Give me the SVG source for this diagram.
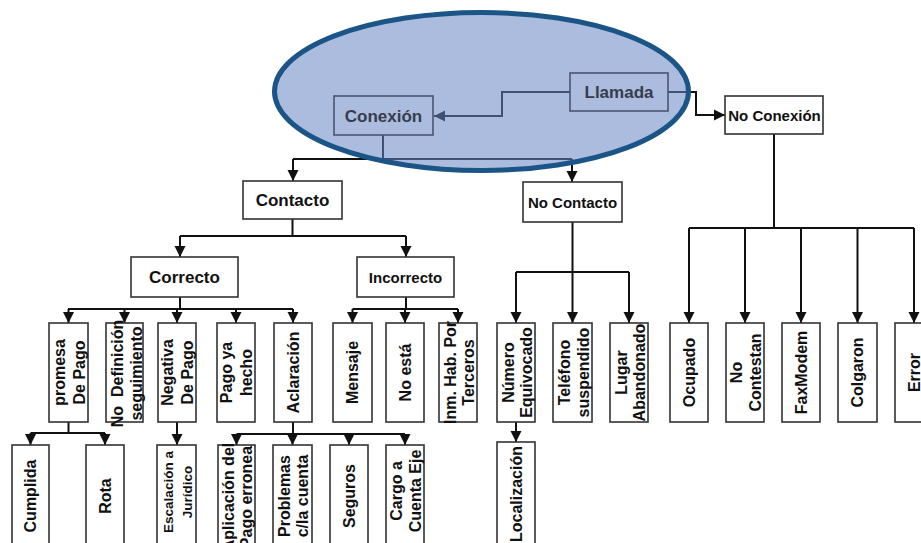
<svg xmlns="http://www.w3.org/2000/svg" width="921" height="543" viewBox="0 0 921 543">
  <style>
    .box { fill: #fff; stroke: #333; stroke-width: 1.6; }
    .hl { fill: none; stroke: #4a5470; stroke-width: 1.6; }
    .lbl { font-family: "Liberation Sans", Arial, sans-serif; font-weight: bold; fill: #111; text-anchor: middle; }
    .dim { fill: #363c4b; }
    .h17 { font-size: 17px; }
    .h15 { font-size: 15px; }
    .v { font-size: 16px; }
    .vs { font-size: 13.5px; }
    .wire { fill: none; stroke: #111; stroke-width: 2; }
    .arr { marker-end: url(#tip); }
  </style>
  <defs>
    <marker id="tip" markerUnits="userSpaceOnUse" markerWidth="12" markerHeight="12" refX="11" refY="6" orient="auto">
      <path d="M0,0.5 L11,6 L0,11.5 z" fill="#111"/>
    </marker>
  </defs>
  <rect width="921" height="543" fill="#fff"/>

  <!-- connectors -->
  <g id="connectors">
    <path class="wire arr" d="M570,92 H502 V116 H434"/>
    <path class="wire arr" d="M668,92 H696 V115 H725"/>
    <path class="wire" d="M383,135 V159 M293,159 H572"/>
    <path class="wire arr" d="M293,159 V181"/>
    <path class="wire arr" d="M572,159 V182"/>

    <path class="wire" d="M292.5,219 V236 M180,236 H406"/>
    <path class="wire arr" d="M180,236 V257"/>
    <path class="wire arr" d="M406,236 V257"/>

    <path class="wire" d="M180,297 V309 M68,309 H293"/>
    <path class="wire arr" d="M68.5,309 V323"/>
    <path class="wire arr" d="M124.5,309 V323"/>
    <path class="wire arr" d="M177,309 V323"/>
    <path class="wire arr" d="M236,309 V323"/>
    <path class="wire arr" d="M293,309 V323"/>

    <path class="wire" d="M406,297 V309 M352.5,309 H458"/>
    <path class="wire arr" d="M352.5,309 V323"/>
    <path class="wire arr" d="M405,309 V323"/>
    <path class="wire arr" d="M458,309 V323"/>

    <path class="wire" d="M572.5,222 V272 M516,272 H629"/>
    <path class="wire arr" d="M516,272 V323"/>
    <path class="wire arr" d="M572.5,272 V323"/>
    <path class="wire arr" d="M629,272 V323"/>

    <path class="wire" d="M774,134 V228 M689,228 H914"/>
    <path class="wire arr" d="M689,228 V323"/>
    <path class="wire arr" d="M745,228 V323"/>
    <path class="wire arr" d="M801,228 V323"/>
    <path class="wire arr" d="M857.5,228 V323"/>
    <path class="wire arr" d="M914,228 V323"/>

    <path class="wire" d="M68.5,422 V433 M30.5,433 H105"/>
    <path class="wire arr" d="M30.5,433 V445"/>
    <path class="wire arr" d="M105,433 V445"/>
    <path class="wire arr" d="M177,422 V445"/>
    <path class="wire" d="M293,422 V434 M236.5,434 H405"/>
    <path class="wire arr" d="M236.5,434 V445"/>
    <path class="wire arr" d="M292.5,434 V445"/>
    <path class="wire arr" d="M349,434 V445"/>
    <path class="wire arr" d="M405,434 V445"/>
    <path class="wire arr" d="M516,422 V442"/>
  </g>

  <!-- second and third levels -->
  <g id="n-noconexion"><rect class="box" x="725" y="96" width="98" height="38"/><text class="lbl h15" x="774.5" y="120.5">No Conexión</text></g>
  <g id="n-contacto"><rect class="box" x="243" y="181" width="99" height="38"/><text class="lbl h17" x="292.5" y="206">Contacto</text></g>
  <g id="n-nocontacto"><rect class="box" x="523" y="182" width="99" height="40"/><text class="lbl h15" x="572.5" y="207.5">No Contacto</text></g>
  <g id="n-correcto"><rect class="box" x="131" y="257" width="107" height="40"/><text class="lbl h17" x="184.5" y="283">Correcto</text></g>
  <g id="n-incorrecto"><rect class="box" x="357" y="257" width="97" height="40"/><text class="lbl h15" x="405.5" y="282.5">Incorrecto</text></g>

  <!-- vertical leaf boxes -->
  <g id="n-promesa"><rect class="box" x="49" y="323" width="39" height="99"/>
    <text class="lbl v" transform="translate(68.5,372.5) rotate(-90)"><tspan x="0" y="-4">promesa</tspan><tspan x="0" y="16">De Pago</tspan></text></g>
  <g id="n-nodef"><rect class="box" x="106" y="323" width="37" height="99"/>
    <text class="lbl v" transform="translate(124.5,373.5) rotate(-90)"><tspan x="0" y="-2">No&#160; Definición</tspan><tspan x="0" y="17">seguimiento</tspan></text></g>
  <g id="n-negativa"><rect class="box" x="158" y="323" width="38" height="99"/>
    <text class="lbl v" transform="translate(177,372.5) rotate(-90)"><tspan x="0" y="-4">Negativa</tspan><tspan x="0" y="16">De Pago</tspan></text></g>
  <g id="n-pagohecho"><rect class="box" x="217" y="323" width="38" height="99"/>
    <text class="lbl v" transform="translate(236,372.5) rotate(-90)"><tspan x="0" y="-4">Pago ya</tspan><tspan x="0" y="16">hecho</tspan></text></g>
  <g id="n-aclaracion"><rect class="box" x="274" y="323" width="38" height="99"/>
    <text class="lbl v" transform="translate(293,372.5) rotate(-90)"><tspan x="0" y="5.5">Aclaración</tspan></text></g>
  <g id="n-mensaje"><rect class="box" x="333" y="323" width="39" height="99"/>
    <text class="lbl v" transform="translate(352.5,372.5) rotate(-90)"><tspan x="0" y="5.5">Mensaje</tspan></text></g>
  <g id="n-noesta"><rect class="box" x="386" y="323" width="38" height="99"/>
    <text class="lbl v" transform="translate(405,372.5) rotate(-90)"><tspan x="0" y="5.5">No está</tspan></text></g>
  <g id="n-inm"><rect class="box" x="439" y="323" width="38" height="99"/>
    <text class="lbl v" transform="translate(458,372.5) rotate(-90)"><tspan x="0" y="-2.5">Inm. Hab. Por</tspan><tspan x="0" y="15.5">Terceros</tspan></text></g>
  <g id="n-numero"><rect class="box" x="497" y="323" width="38" height="99"/>
    <text class="lbl v" transform="translate(516,372.5) rotate(-90)"><tspan x="0" y="-2">Número</tspan><tspan x="0" y="16">Equivocado</tspan></text></g>
  <g id="n-telefono"><rect class="box" x="553" y="323" width="39" height="99"/>
    <text class="lbl v" transform="translate(572.5,372.5) rotate(-90)"><tspan x="0" y="-2.5">Teléfono</tspan><tspan x="0" y="16">suspendido</tspan></text></g>
  <g id="n-lugar"><rect class="box" x="610" y="323" width="38" height="99"/>
    <text class="lbl v" transform="translate(629,372.5) rotate(-90)"><tspan x="0" y="-2.5">Lugar</tspan><tspan x="0" y="16">Abandonado</tspan></text></g>
  <g id="n-ocupado"><rect class="box" x="670" y="323" width="38" height="99"/>
    <text class="lbl v" transform="translate(689,372.5) rotate(-90)"><tspan x="0" y="5.5">Ocupado</tspan></text></g>
  <g id="n-nocontestan"><rect class="box" x="726" y="323" width="38" height="99"/>
    <text class="lbl v" transform="translate(745,372.5) rotate(-90)"><tspan x="0" y="-3">No</tspan><tspan x="0" y="16">Contestan</tspan></text></g>
  <g id="n-faxmodem"><rect class="box" x="782" y="323" width="38" height="99"/>
    <text class="lbl v" transform="translate(801,372.5) rotate(-90)"><tspan x="0" y="5.5">FaxModem</tspan></text></g>
  <g id="n-colgaron"><rect class="box" x="838" y="323" width="39" height="99"/>
    <text class="lbl v" transform="translate(857.5,372.5) rotate(-90)"><tspan x="0" y="5.5">Colgaron</tspan></text></g>
  <g id="n-error"><rect class="box" x="895" y="323" width="38" height="99"/>
    <text class="lbl v" transform="translate(914,372.5) rotate(-90)"><tspan x="0" y="5.5">Error</tspan></text></g>

  <!-- bottom leaf boxes -->
  <g id="n-cumplida"><rect class="box" x="12" y="445" width="37" height="102"/>
    <text class="lbl v" transform="translate(30.5,496) rotate(-90)"><tspan x="0" y="5.5">Cumplida</tspan></text></g>
  <g id="n-rota"><rect class="box" x="86" y="445" width="38" height="102"/>
    <text class="lbl v" transform="translate(105,496) rotate(-90)"><tspan x="0" y="5.5">Rota</tspan></text></g>
  <g id="n-escalacion"><rect class="box" x="157" y="445" width="39" height="102"/>
    <text class="lbl vs" transform="translate(176.5,492) rotate(-90)"><tspan x="0" y="-4">Escalación a</tspan><tspan x="0" y="15">Jurídico</tspan></text></g>
  <g id="n-aplicacion"><rect class="box" x="218" y="445" width="37" height="102"/>
    <text class="lbl v" transform="translate(236.5,497) rotate(-90)"><tspan x="0" y="-3">Aplicación del</tspan><tspan x="0" y="15">Pago erronea</tspan></text></g>
  <g id="n-problemas"><rect class="box" x="273" y="445" width="39" height="102"/>
    <text class="lbl v" transform="translate(292.5,496) rotate(-90)"><tspan x="0" y="-3">Problemas</tspan><tspan x="0" y="15.5">c/la cuenta</tspan></text></g>
  <g id="n-seguros"><rect class="box" x="330" y="445" width="38" height="102"/>
    <text class="lbl v" transform="translate(349,496) rotate(-90)"><tspan x="0" y="5.5">Seguros</tspan></text></g>
  <g id="n-cargo"><rect class="box" x="386" y="445" width="38" height="102"/>
    <text class="lbl v" transform="translate(405,491) rotate(-90)"><tspan x="0" y="-3">Cargo a</tspan><tspan x="0" y="15.5">Cuenta Eje</tspan></text></g>
  <g id="n-localizacion"><rect class="box" x="497" y="442" width="38" height="104"/>
    <text class="lbl v" transform="translate(516,494) rotate(-90)"><tspan x="0" y="5.5">Localización</tspan></text></g>

  <!-- highlight ellipse over the top pair -->
  <ellipse id="highlight" cx="481.5" cy="91.5" rx="207" ry="79" fill="#6685c3" fill-opacity="0.55" stroke="#1b5487" stroke-width="5"/>

  <!-- top pair, drawn inside the highlight -->
  <g id="n-llamada"><rect class="hl" x="570" y="73" width="98" height="38"/><text class="lbl dim h17" x="619" y="98">Llamada</text></g>
  <g id="n-conexion"><rect class="hl" x="334" y="96" width="99" height="39"/><text class="lbl dim h17" x="383.5" y="122">Conexión</text></g>
</svg>
